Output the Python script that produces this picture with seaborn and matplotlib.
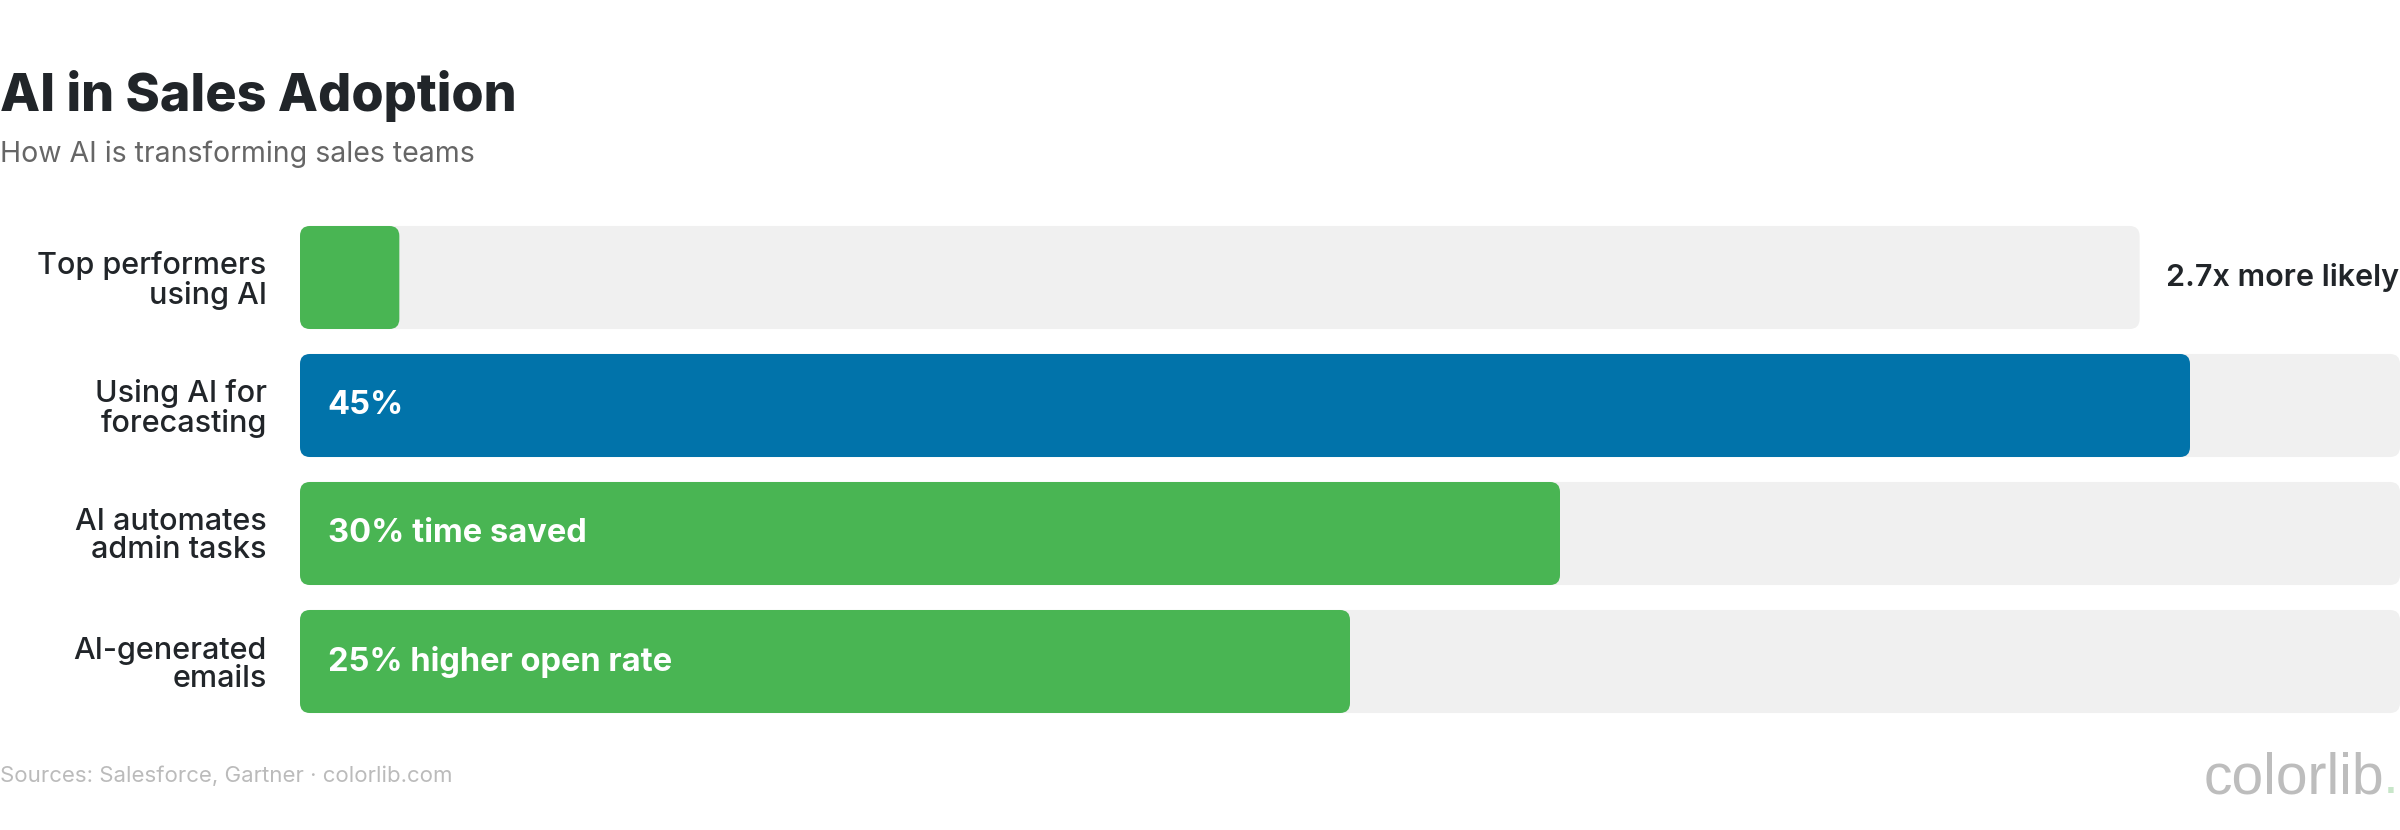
import pandas as pd
import matplotlib.pyplot as plt
import seaborn as sns
from matplotlib.patches import FancyBboxPatch

sns.set_theme(style="white")
plt.rcParams['font.family'] = ['Inter', 'DejaVu Sans']

# --- data ---
labels = ["Top performers\nusing AI", "Using AI for\nforecasting",
          "AI automates\nadmin tasks", "AI-generated\nemails"]
values = [2.7, 45, 30, 25]
scale_max = 50
track = [43.8, 50, 50, 50]          # first row track is shortened for the outside label
bar_text = ["2.7x more likely", "45%", "30% time saved", "25% higher open rate"]
text_inside = [False, True, True, True]
colors = ["#49B553", "#0173AA", "#49B553", "#49B553"]

TRACK_COLOR = "#F0F0F0"
DARK = "#212529"

df = pd.DataFrame({
    "label": labels,
    "track": track,
    "shown": [v / scale_max * t for v, t in zip(values, track)],
})

W, H = 2400, 830
fig = plt.figure(figsize=(W / 100, H / 100), dpi=100)
ax = fig.add_axes([300 / W, 1 - 725.5 / H, 2100 / W, 512 / H])

sns.barplot(data=df, x="track", y="label", color=TRACK_COLOR, width=0.805,
            orient="h", ax=ax, saturation=1)
sns.barplot(data=df, x="shown", y="label", hue="label", palette=colors,
            width=0.805, orient="h", ax=ax, saturation=1, legend=False)
ax.set_xlim(0, scale_max)
ax.set_ylim(3.5, -0.5)

# swap the plain rectangles for rounded ones
px_x = 2100 / scale_max
px_y = 128
radius_px = 10
for p in list(ax.patches):
    x0, y0 = p.get_x(), p.get_y()
    w, h = p.get_width(), p.get_height()
    fc = p.get_facecolor()
    p.remove()
    ax.add_patch(FancyBboxPatch(
        (x0, y0), w, h,
        boxstyle=f"round,pad=0,rounding_size={radius_px / px_x}",
        mutation_aspect=px_x / px_y,
        facecolor=fc, edgecolor="none", zorder=2 if fc[0] > 0.9 else 3))

for i, (txt, inside) in enumerate(zip(bar_text, text_inside)):
    if inside:
        ax.annotate(txt, (0, i), xytext=(20, 0), textcoords="offset points",
                    ha="left", va="center", color="white", fontsize=23.5,
                    fontweight="bold", zorder=5)
    else:
        ax.annotate(txt, (track[i], i), xytext=(19, 0), textcoords="offset points",
                    ha="left", va="center", color=DARK, fontsize=22,
                    fontweight="semibold", annotation_clip=False, zorder=5)

ax.set_xlabel("")
ax.set_ylabel("")
ax.set_xticks([])
ax.tick_params(axis="y", length=0, pad=24)
ax.set_yticks(range(len(labels)))
ax.set_yticklabels(labels, fontsize=22, color=DARK, fontweight="medium",
                   linespacing=1.0)
for s in ax.spines.values():
    s.set_visible(False)

fig.text(0, 1 - 111 / H, "AI in Sales Adoption", fontsize=37.5, fontweight="heavy",
         color=DARK, va="baseline", ha="left")
fig.text(0, 1 - 162 / H, "How AI is transforming sales teams", fontsize=20.5,
         color="#666666", va="baseline", ha="left")
fig.text(0, 1 - 782 / H, "Sources: Salesforce, Gartner · colorlib.com", fontsize=16,
         color="#BBBBBB", va="baseline", ha="left")
fig.text(2384 / W, 1 - 793 / H, "colorlib", fontsize=41, color="#BDBDBD",
         family="Liberation Sans", va="baseline", ha="right")
fig.text(2383 / W, 1 - 793 / H, ".", fontsize=41, color="#C8E6C9",
         family="Liberation Sans", va="baseline", ha="left")

fig.savefig("out.png", dpi=100, facecolor="white")
